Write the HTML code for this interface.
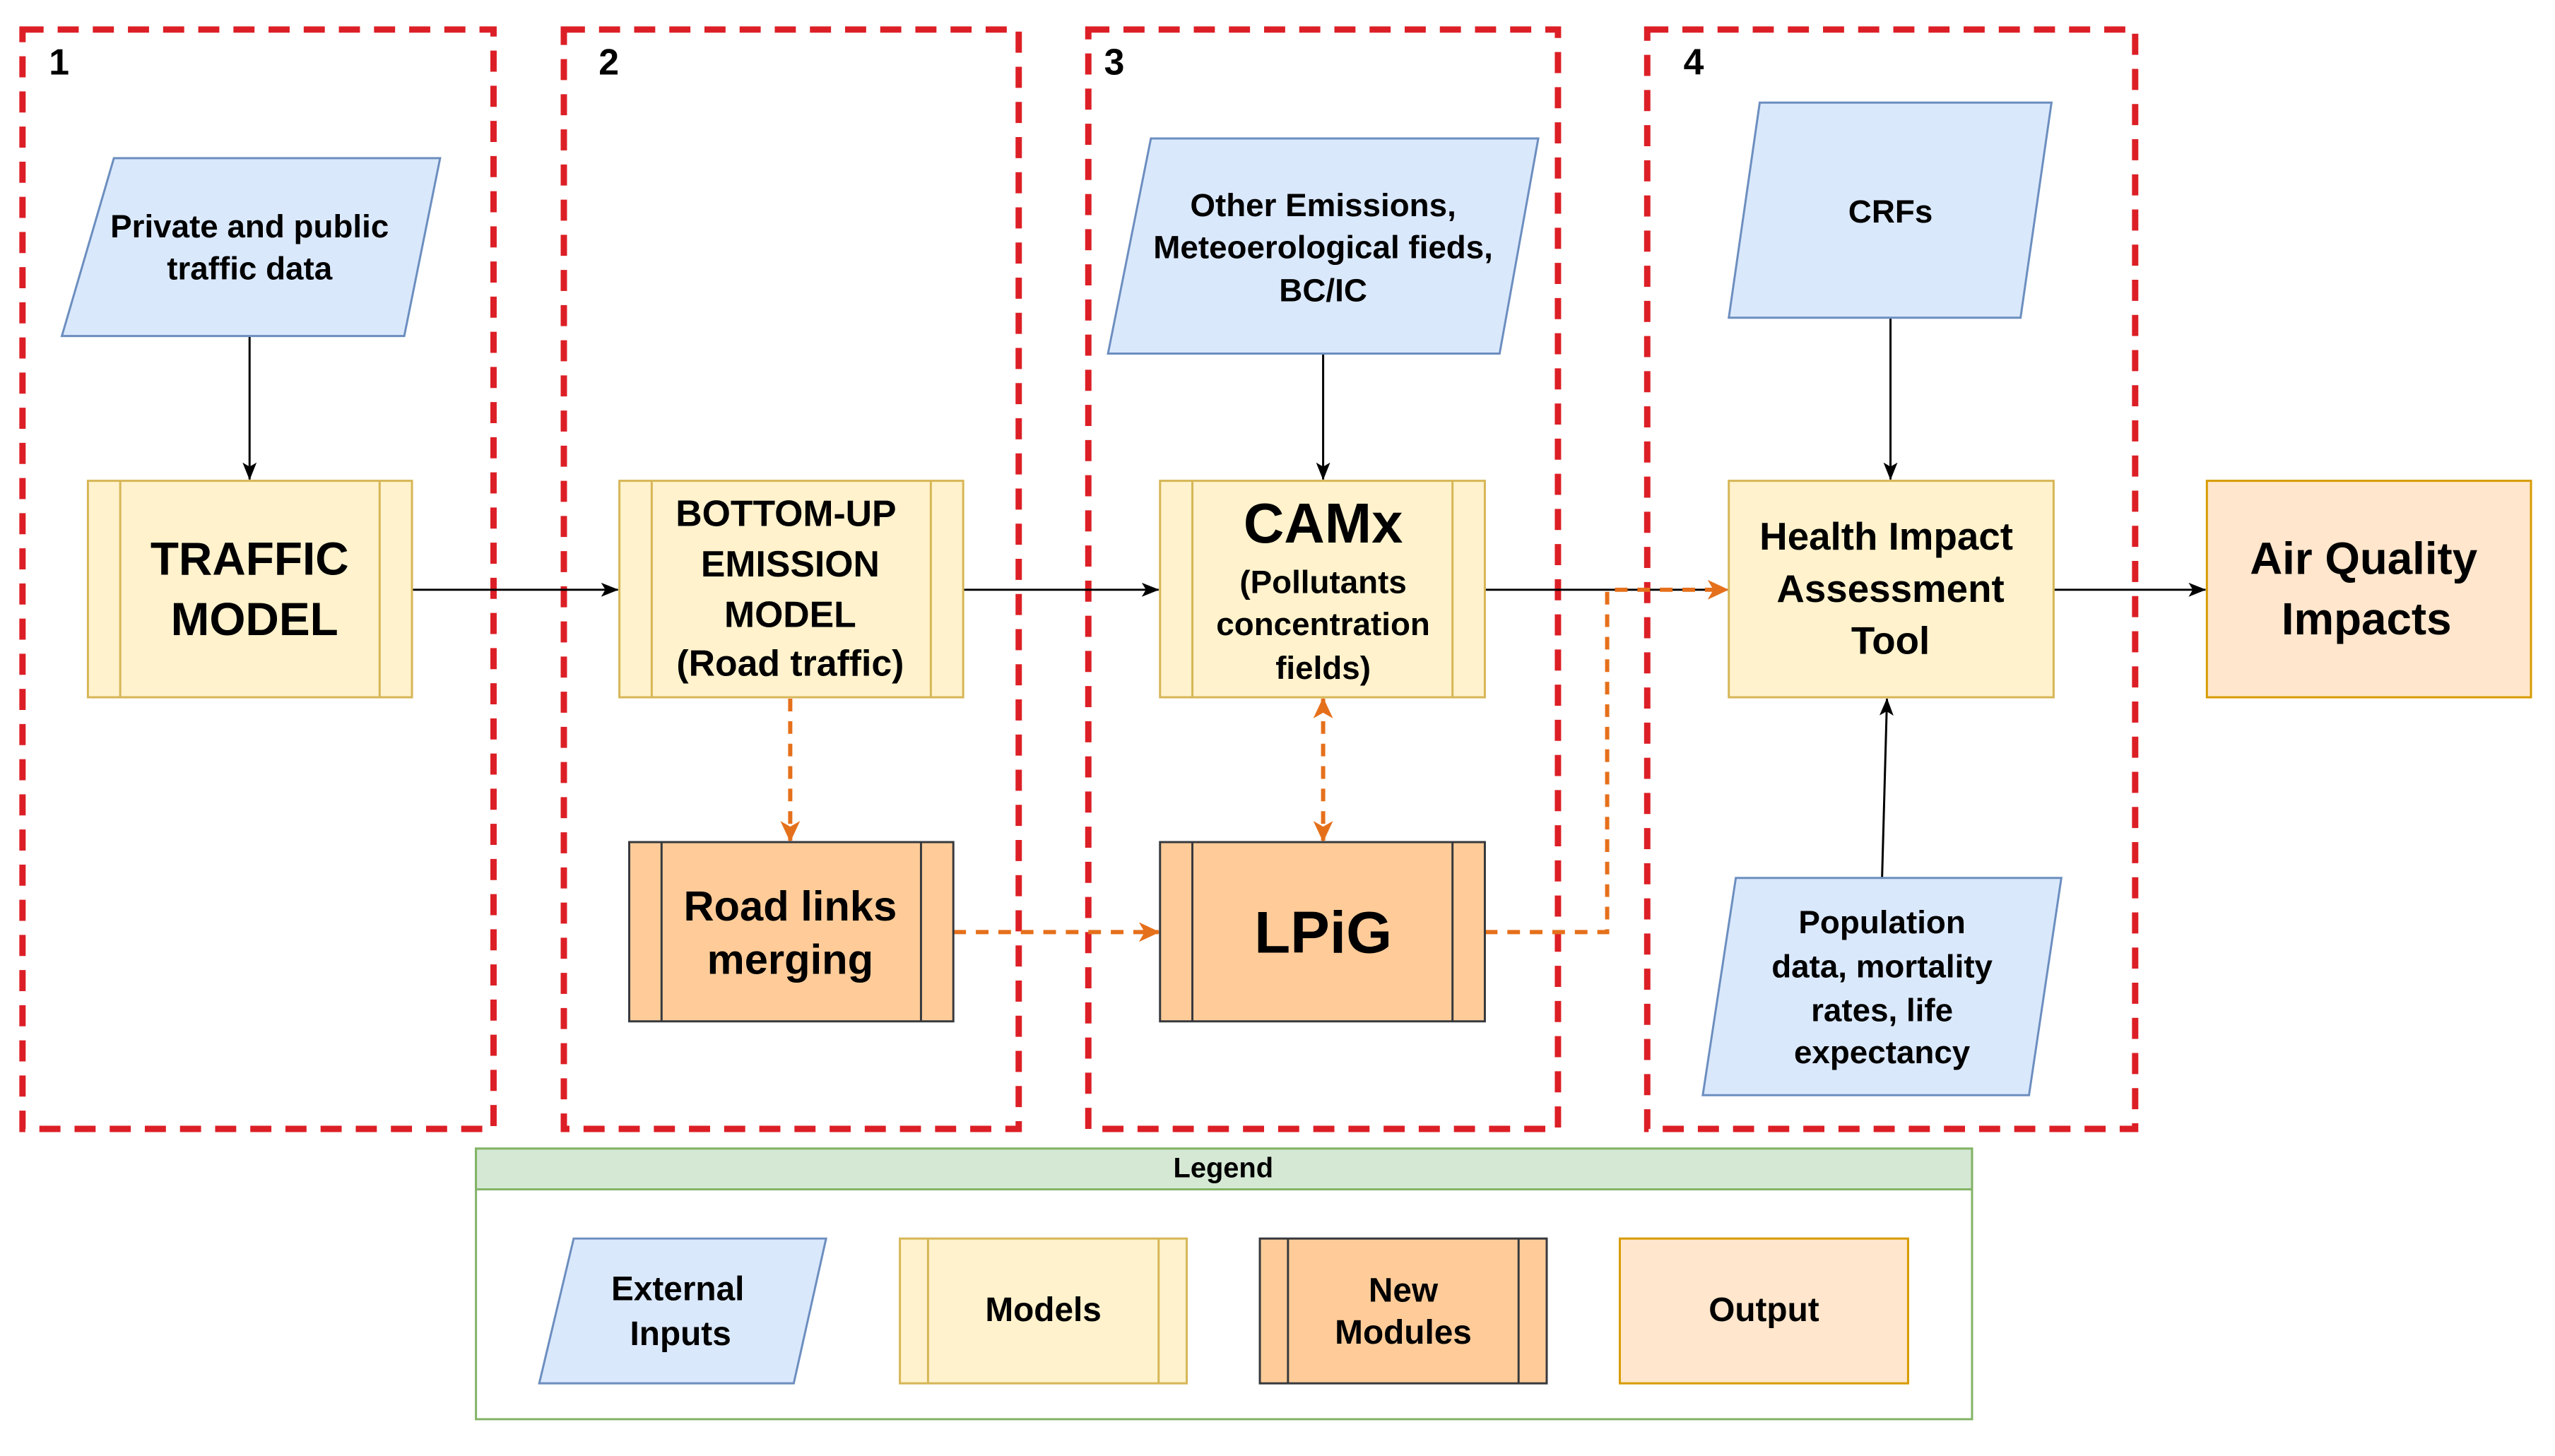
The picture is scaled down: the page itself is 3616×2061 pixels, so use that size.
<!DOCTYPE html>
<html><head><meta charset="utf-8"><style>
html,body{margin:0;padding:0;background:#fff;}
svg{display:block;}
text{font-family:"Liberation Sans",Arial,sans-serif;font-weight:bold;fill:#000;text-anchor:middle;dominant-baseline:central;}
</style></head><body>
<svg width="3616" height="2061" viewBox="0 0 3616 2061" xmlns="http://www.w3.org/2000/svg">
<defs>
<marker id="ao" markerWidth="36" markerHeight="36" refX="30" refY="18" orient="auto-start-reverse" markerUnits="userSpaceOnUse"><path d="M2,4 L32,18 L2,32 L10,18 Z" fill="#e5701b"/></marker>
<marker id="bk" markerWidth="30" markerHeight="30" refX="26" refY="15" orient="auto" markerUnits="userSpaceOnUse"><path d="M2,5 L27,15 L2,25 L8,15 Z" fill="#000"/></marker>
</defs>
<g transform="scale(0.995)">
<!-- group boxes -->
<g fill="none" stroke="#dc1f26" stroke-width="9" stroke-dasharray="30 20">
<rect x="32" y="42" width="670" height="1564"/>
<rect x="802" y="42" width="647" height="1564"/>
<rect x="1548" y="42" width="668" height="1564"/>
<rect x="2343" y="42" width="694" height="1564"/>
</g>
<text x="84" y="88" font-size="52">1</text>
<text x="866" y="88" font-size="52">2</text>
<text x="1585" y="88" font-size="52">3</text>
<text x="2409" y="88" font-size="52">4</text>

<g stroke="#000" stroke-width="3" fill="none">
<line x1="355" y1="478" x2="355" y2="682" marker-end="url(#bk)"/>
<line x1="1882" y1="503" x2="1882" y2="682" marker-end="url(#bk)"/>
<line x1="2689" y1="452" x2="2689" y2="682" marker-end="url(#bk)"/>
<line x1="2677" y1="1249" x2="2684" y2="994" marker-end="url(#bk)"/>
<line x1="586" y1="839" x2="879" y2="839" marker-end="url(#bk)"/>
<line x1="1370" y1="839" x2="1648" y2="839" marker-end="url(#bk)"/>
<line x1="2112" y1="839" x2="2457" y2="839" marker-end="url(#bk)"/>
<line x1="2921" y1="839" x2="3137" y2="839" marker-end="url(#bk)"/>
</g>

<g stroke="#e5701b" stroke-width="6" fill="none" stroke-dasharray="18 14">
<line x1="1124" y1="994" x2="1124" y2="1196" marker-end="url(#ao)"/>
<line x1="1882" y1="994" x2="1882" y2="1196" marker-start="url(#ao)" marker-end="url(#ao)"/>
<line x1="1356" y1="1326" x2="1648" y2="1326" marker-end="url(#ao)"/>
<polyline points="2112,1326 2286,1326 2286,839 2457,839" marker-end="url(#ao)"/>
</g>

<g fill="#dae8fc" stroke="#6c8ebf" stroke-width="3">
<polygon points="162,225 626,225 575,478 88,478"/>
<polygon points="1637,197 2188,197 2133,503 1576,503"/>
<polygon points="2503,146 2918,146 2874,452 2459,452"/>
<polygon points="2469,1249 2932,1249 2886,1558 2422,1558"/>
</g>
<text x="355" y="322" font-size="46">Private and public</text>
<text x="355" y="382" font-size="46">traffic data</text>
<text x="1882" y="292" font-size="46">Other Emissions,</text>
<text x="1882" y="352" font-size="46">Meteoerological fieds,</text>
<text x="1882" y="413" font-size="46">BC/IC</text>
<text x="2689" y="301" font-size="46">CRFs</text>
<text x="2677" y="1312" font-size="46">Population</text>
<text x="2677" y="1375" font-size="46">data, mortality</text>
<text x="2677" y="1437" font-size="46">rates, life</text>
<text x="2677" y="1497" font-size="46">expectancy</text>

<g fill="#fff2cc" stroke="#d6b656" stroke-width="3">
<rect x="125" y="684" width="461" height="308"/>
<line x1="171" y1="684" x2="171" y2="992"/><line x1="540" y1="684" x2="540" y2="992"/>
<rect x="881" y="684" width="489" height="308"/>
<line x1="927" y1="684" x2="927" y2="992"/><line x1="1324" y1="684" x2="1324" y2="992"/>
<rect x="1650" y="684" width="462" height="308"/>
<line x1="1696" y1="684" x2="1696" y2="992"/><line x1="2066" y1="684" x2="2066" y2="992"/>
<rect x="2459" y="684" width="462" height="308"/>
</g>
<rect x="3139" y="684" width="461" height="308" fill="#ffe6cc" stroke="#d79b00" stroke-width="3"/>
<text x="355" y="795" font-size="66">TRAFFIC</text>
<text x="362" y="881" font-size="66">MODEL</text>
<text x="1118" y="730" font-size="52">BOTTOM-UP</text>
<text x="1124" y="802" font-size="52">EMISSION</text>
<text x="1124" y="874" font-size="52">MODEL</text>
<text x="1124" y="943" font-size="52">(Road traffic)</text>
<text x="1882" y="744" font-size="80">CAMx</text>
<text x="1882" y="828" font-size="46">(Pollutants</text>
<text x="1882" y="888" font-size="46">concentration</text>
<text x="1882" y="950" font-size="46">fields)</text>
<text x="2683" y="763" font-size="55">Health Impact</text>
<text x="2689" y="837" font-size="55">Assessment</text>
<text x="2689" y="911" font-size="55">Tool</text>
<text x="3362" y="795" font-size="64">Air Quality</text>
<text x="3366" y="881" font-size="64">Impacts</text>

<g fill="#ffcc99" stroke="#36393d" stroke-width="3">
<rect x="895" y="1198" width="461" height="255"/>
<line x1="941" y1="1198" x2="941" y2="1453"/><line x1="1310" y1="1198" x2="1310" y2="1453"/>
<rect x="1650" y="1198" width="462" height="255"/>
<line x1="1696" y1="1198" x2="1696" y2="1453"/><line x1="2066" y1="1198" x2="2066" y2="1453"/>
</g>
<text x="1124" y="1289" font-size="60">Road links</text>
<text x="1124" y="1365" font-size="60">merging</text>
<text x="1882" y="1326" font-size="84">LPiG</text>

<rect x="677" y="1634" width="2128" height="385" fill="#fff" stroke="#82b366" stroke-width="3"/>
<rect x="677" y="1634" width="2128" height="58" fill="#d5e8d4" stroke="#82b366" stroke-width="3"/>
<text x="1740" y="1662" font-size="40">Legend</text>
<polygon points="816,1762 1175,1762 1129,1968 767,1968" fill="#dae8fc" stroke="#6c8ebf" stroke-width="3"/>
<text x="964" y="1834" font-size="48">External</text>
<text x="968" y="1898" font-size="48">Inputs</text>
<g fill="#fff2cc" stroke="#d6b656" stroke-width="3">
<rect x="1280" y="1762" width="408" height="206"/>
<line x1="1320" y1="1762" x2="1320" y2="1968"/><line x1="1648" y1="1762" x2="1648" y2="1968"/>
</g>
<text x="1484" y="1864" font-size="48">Models</text>
<g fill="#ffcc99" stroke="#36393d" stroke-width="3">
<rect x="1792" y="1762" width="408" height="206"/>
<line x1="1832" y1="1762" x2="1832" y2="1968"/><line x1="2160" y1="1762" x2="2160" y2="1968"/>
</g>
<text x="1996" y="1836" font-size="48">New</text>
<text x="1996" y="1896" font-size="48">Modules</text>
<rect x="2304" y="1762" width="410" height="206" fill="#ffe6cc" stroke="#d79b00" stroke-width="3"/>
<text x="2509" y="1864" font-size="48">Output</text>
</g>
</svg>
</body></html>
